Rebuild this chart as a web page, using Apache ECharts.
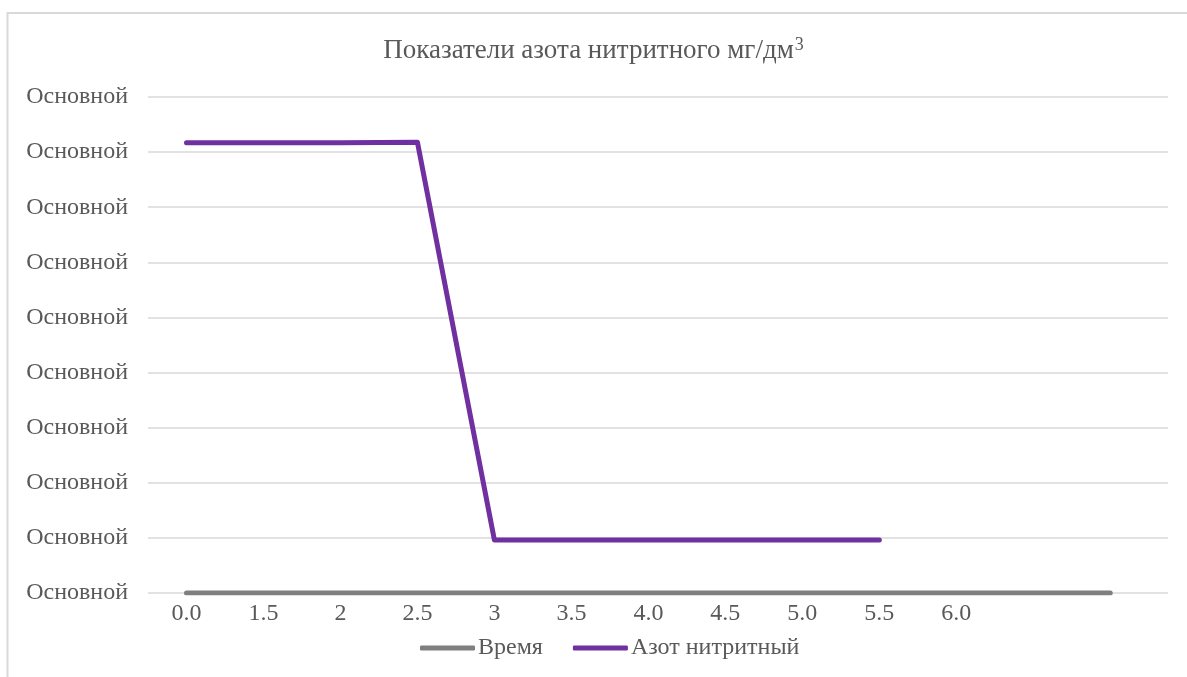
<!DOCTYPE html>
<html>
<head>
<meta charset="utf-8">
<title>Показатели азота нитритного</title>
<script src="https://cdn.jsdelivr.net/npm/echarts@6/dist/echarts.min.js"></script>
<style>
  html, body { margin: 0; padding: 0; background: #fff; }
  #main { width: 1187px; height: 677px; }
</style>
</head>
<body>
<div id="main"></div>
<script>
// подписи оси X (категории)
const xLabels = ['0.0', '1.5', '2', '2.5', '3', '3.5', '4.0', '4.5', '5.0', '5.5', '6.0', '', '']
// ряд "Время" — лежит на нуле по всей длине
const timeValues = [0, 0, 0, 0, 0, 0, 0, 0, 0, 0, 0, 0, 0]
// ряд "Азот нитритный"
const nitriteValues = [0.0817, 0.0817, 0.0817, 0.0818, 0.0096, 0.0096, 0.0096, 0.0096, 0.0096, 0.0096]

const font = 'Liberation Serif, Times New Roman, serif'
const textColor = '#595959'

const toPairs = arr => arr.map((v, i) => [i, v])

const chart = echarts.init(document.getElementById('main'))
chart.setOption({
  animation: false,
  title: {
    text: 'Показатели азота нитритного мг/дм{s|3}',
    left: 'center',
    top: 31,
    textStyle: {
      fontFamily: font, fontSize: 27, fontWeight: 'normal', color: textColor,
      rich: { s: { fontFamily: font, fontSize: 18, color: textColor, padding: [0, 0, 12, 1] } }
    }
  },
  legend: {
    bottom: 12,
    left: 415,
    itemWidth: 55,
    itemHeight: 5,
    itemGap: 30,
    icon: 'roundRect',
    textStyle: { fontFamily: font, fontSize: 24, color: textColor, padding: [0, 0, 0, -2] },
    data: ['Время', 'Азот нитритный']
  },
  grid: { left: 148, right: 19, top: 97, bottom: 84 },
  xAxis: {
    type: 'value',
    min: -0.5,
    max: 12.75,
    axisLine: { show: false },
    axisTick: { show: false },
    splitLine: { show: false },
    axisLabel: {
      customValues: [0, 1, 2, 3, 4, 5, 6, 7, 8, 9, 10],
      formatter: v => xLabels[v] || '',
      fontFamily: font,
      fontSize: 24,
      color: textColor,
      margin: 9
    }
  },
  yAxis: {
    type: 'value',
    min: 0,
    max: 0.09,
    interval: 0.01,
    axisLine: { show: false },
    axisTick: { show: false },
    splitLine: { lineStyle: { color: '#d9d9d9', width: 1.5 } },
    axisLabel: {
      formatter: () => 'Основной',
      fontFamily: font,
      fontSize: 24,
      color: textColor,
      margin: 20
    }
  },
  graphic: [{
    type: 'rect',
    shape: { x: 7.5, y: 13, width: 1400, height: 800 },
    style: { fill: 'none', stroke: '#d9d9d9', lineWidth: 2 },
    silent: true
  }],
  series: [
    {
      name: 'Время',
      type: 'line',
      data: toPairs(timeValues),
      showSymbol: false,
      lineStyle: { color: '#7f7f7f', width: 5, cap: 'round', join: 'round' },
      itemStyle: { color: '#7f7f7f' }
    },
    {
      name: 'Азот нитритный',
      type: 'line',
      data: toPairs(nitriteValues),
      showSymbol: false,
      lineStyle: { color: '#7030a0', width: 5, cap: 'round', join: 'round' },
      itemStyle: { color: '#7030a0' }
    }
  ]
})
</script>
</body>
</html>
